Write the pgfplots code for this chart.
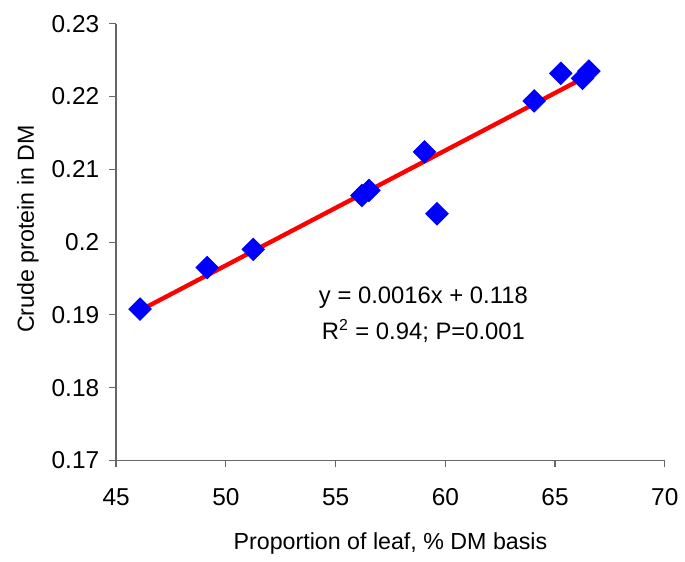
\documentclass[border=0pt]{standalone}
\usepackage{fontspec}
\setmainfont{Liberation Sans}
\usepackage{pgfplots}
\pgfplotsset{compat=1.18}
\begin{document}
\begin{tikzpicture}
\begin{axis}[
  scale only axis,
  width=276.5pt, height=220pt,
  xmin=45, xmax=70, ymin=0.17, ymax=0.23,
  xtick={45,50,...,70},
  ytick={0.17,0.18,...,0.23},
  axis x line=bottom, axis y line=left,
  axis line style={-, draw=black!60, line width=0.6pt},
  tick style={draw=black!60, line width=0.6pt},
  tick align=outside,
  major tick length=3.5pt,
  font=\fontsize{11.7}{14}\selectfont,
  ticklabel style={font=\fontsize{12.3}{14}\selectfont},
  /pgf/number format/assume math mode=true,
  yticklabel style={/pgf/number format/fixed, /pgf/number format/precision=2, xshift=-1.5pt},
  xticklabel style={yshift=-7pt},
  xlabel={Proportion of leaf, \% DM basis},
  ylabel={Crude protein in DM},
  xlabel style={at={(axis description cs:0.5,-0.191)}, anchor=center},
  ylabel style={at={(axis description cs:-0.161,0.53)}, anchor=center},
  clip=false,
]
\addplot[only marks, mark=square*, mark size=4pt, color={rgb,255:red,0;green,0;blue,255}, mark options={rotate=45}]
  coordinates {
  (46.09,0.1908) (49.15,0.1965) (51.25,0.1990) (56.20,0.2064) (56.52,0.2071)
  (59.05,0.2124) (59.62,0.2039) (64.05,0.2194) (65.26,0.2232) (66.25,0.2225) (66.54,0.2235)
  };
\addplot[red, line width=2.2pt, line cap=round] coordinates {(46.08,0.1906) (66.52,0.2229)};
\node[anchor=center, font=\fontsize{12}{14}\selectfont] at (axis cs:59.0,0.1924) {y = 0.0016x + 0.118};
\node[anchor=center, font=\fontsize{12}{14}\selectfont] at (axis cs:59.0,0.1878) {R\textsuperscript{2} = 0.94; P=0.001};
\path (rel axis cs:0,0) ++(-58.5pt,-50.5pt) coordinate (bl);
\path (rel axis cs:1,1) ++(7.5pt,12pt) coordinate (tr);
\path[draw=none] (bl) rectangle (tr);
\end{axis}
\end{tikzpicture}
\end{document}
